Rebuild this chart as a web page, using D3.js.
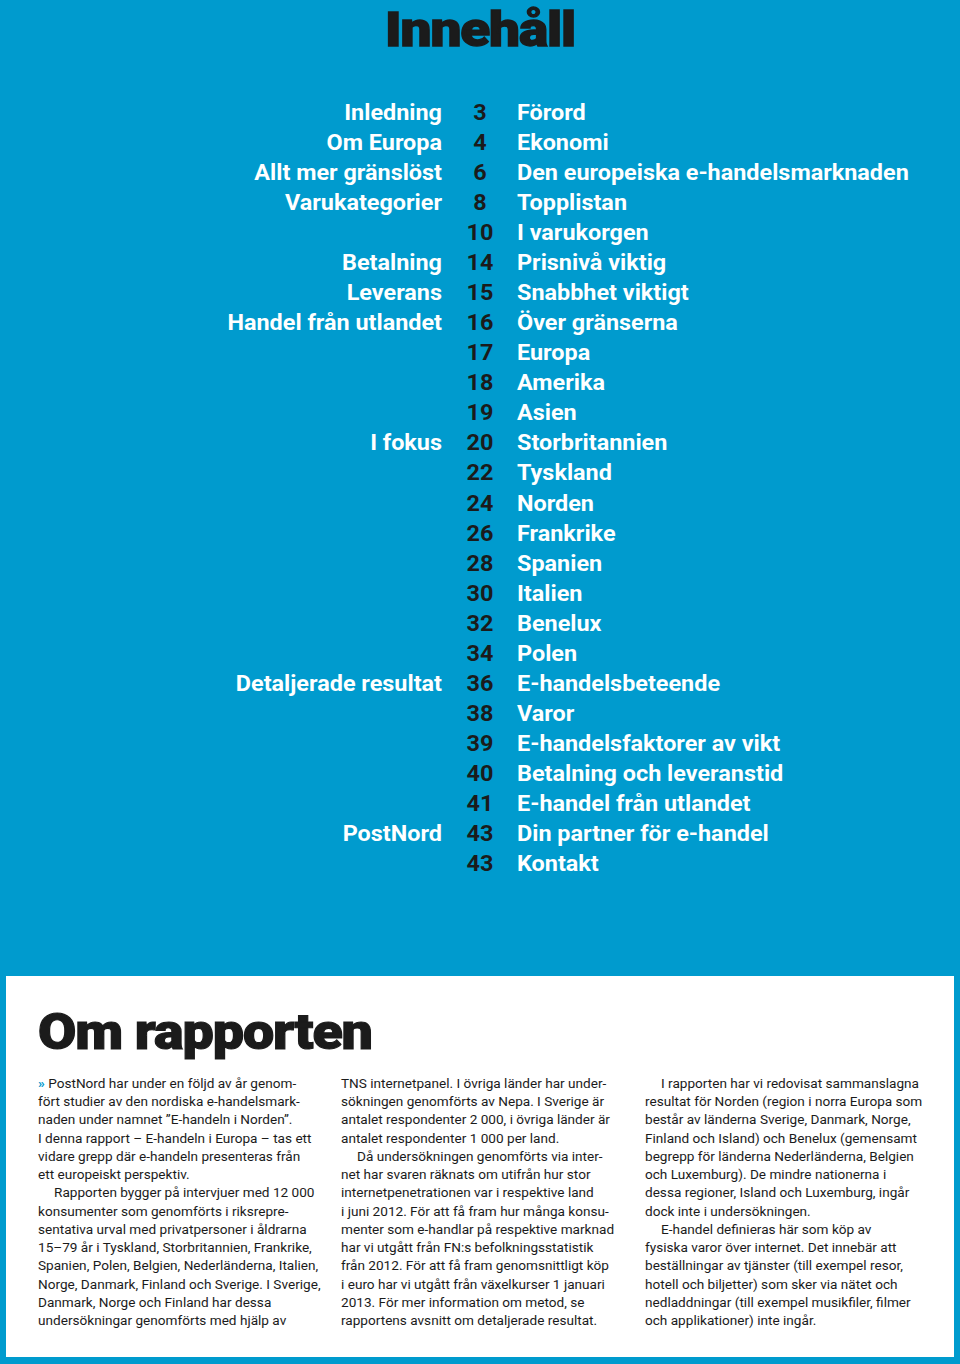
<!DOCTYPE html>
<html><head><meta charset="utf-8">
<script src="https://cdn.jsdelivr.net/npm/d3@7"></script>
<style>
html,body{margin:0;padding:0;background:#009bce;}
svg{display:block;}
</style></head>
<body>
<svg id="c" width="960" height="1364"></svg>
<script>
// ---- data ----
const sections = ["Inledning","Om Europa","Allt mer gränslöst","Varukategorier","","Betalning","Leverans","Handel från utlandet","","","","I fokus","","","","","","","","Detaljerade resultat","","","","","PostNord",""];
const pages = ["3","4","6","8","10","14","15","16","17","18","19","20","22","24","26","28","30","32","34","36","38","39","40","41","43","43"];
const titles = ["Förord","Ekonomi","Den europeiska e-handelsmarknaden","Topplistan","I varukorgen","Prisnivå viktig","Snabbhet viktigt","Över gränserna","Europa","Amerika","Asien","Storbritannien","Tyskland","Norden","Frankrike","Spanien","Italien","Benelux","Polen","E-handelsbeteende","Varor","E-handelsfaktorer av vikt","Betalning och leveranstid","E-handel från utlandet","Din partner för e-handel","Kontakt"];

const col1 = ["PostNord har under en följd av år genom-","fört studier av den nordiska e-handelsmark-","naden under namnet ”E-handeln i Norden”.","I denna rapport – E-handeln i Europa – tas  ett","vidare grepp där e-handeln presenteras från","ett europeiskt perspektiv.","    Rapporten bygger på intervjuer med 12 000","konsumenter som genomförts i riksrepre-","sentativa urval med privatpersoner i åldrarna","15–79 år i Tyskland, Storbritannien, Frankrike,","Spanien, Polen, Belgien, Nederländerna, Italien,","Norge, Danmark, Finland och Sverige. I Sverige,","Danmark, Norge och Finland har dessa","undersökningar genomförts med hjälp av"];
const col2 = ["TNS internetpanel. I övriga länder har under-","sökningen genomförts av Nepa. I Sverige är","antalet respondenter 2 000, i övriga länder är","antalet respondenter 1 000 per land.","    Då undersökningen genomförts via inter-","net har svaren räknats om utifrån hur stor","internetpenetrationen var i respektive land","i juni 2012. För att få fram hur många konsu-","menter som e-handlar på respektive marknad","har vi utgått från FN:s befolkningsstatistik","från 2012. För att få fram genomsnittligt köp","i euro har vi utgått från växelkurser 1 januari","2013. För mer information om metod, se","rapportens avsnitt om detaljerade resultat."];
const col3 = ["    I rapporten har vi redovisat sammanslagna","resultat för Norden (region i norra Europa som","består av länderna Sverige, Danmark, Norge,","Finland och Island) och Benelux (gemensamt","begrepp för länderna Nederländerna, Belgien","och Luxemburg). De mindre nationerna i","dessa regioner, Island och Luxemburg, ingår","dock inte i undersökningen.","    E-handel definieras här som köp av","fysiska varor över internet. Det innebär att","beställningar av tjänster (till exempel resor,","hotell och biljetter) som sker via nätet och","nedladdningar (till exempel musikfiler, filmer","och applikationer) inte ingår."];

// ---- drawing ----
const W = 960, H = 1364;
const BLUE = "#009bce", DARK = "#1b1b1b";
const svg = d3.select("#c");
svg.append("rect").attr("width",W).attr("height",H).attr("fill",BLUE);

const headFont = "Roboto, 'Liberation Sans', sans-serif";

// helper: horizontally condense a text so it spans a target width
function condense(sel, targetW){
  const w = sel.node().getComputedTextLength();
  return targetW / w;
}

// Title
const tg = svg.append("g");
const tt = tg.append("text").attr("x",0).attr("y",0).attr("text-anchor","middle")
  .attr("font-family",headFont).attr("font-weight",900).attr("font-size",48)
  .attr("fill",DARK).attr("stroke",DARK).attr("stroke-width",1.3).attr("letter-spacing",-1)
  .text("Innehåll");
tg.attr("transform",`translate(480,45.5) scale(${condense(tt,190)},1)`);

// TOC
const y = d3.scalePoint().domain(d3.range(titles.length)).range([112, 863]);
const tocSize = 22;
// measure condense factor from longest title
const probe = svg.append("text").attr("font-family",headFont).attr("font-weight",700)
  .attr("font-size",tocSize).text(titles[2]);
const k = condense(probe, 392);
probe.remove();

const rows = svg.append("g").selectAll("g").data(titles).join("g")
  .attr("transform",(d,i)=>`translate(0,${y(i)+8})`)
  .attr("font-family",headFont).attr("font-weight",700).attr("font-size",tocSize);
rows.append("text").attr("transform",`translate(442,0) scale(${k},1)`).attr("text-anchor","end")
  .attr("fill","#fff").text((d,i)=>sections[i]);
rows.append("text").attr("transform",`translate(480,0) scale(${k},1)`).attr("text-anchor","middle")
  .attr("fill",DARK).text((d,i)=>pages[i]);
rows.append("text").attr("transform",`translate(517,0) scale(${k},1)`).attr("text-anchor","start")
  .attr("fill","#fff").text(d=>d);

// white panel
svg.append("rect").attr("x",6).attr("y",976).attr("width",948).attr("height",381).attr("fill","#fff");
const og = svg.append("g");
const ot = og.append("text").attr("x",0).attr("y",0)
  .attr("font-family",headFont).attr("font-weight",900).attr("font-size",50)
  .attr("fill",DARK).attr("stroke",DARK).attr("stroke-width",1.1).attr("letter-spacing",-1)
  .text("Om rapporten");
og.attr("transform",`translate(38,1049) scale(${condense(ot,334)},1)`);

const bodyFont = "Roboto, 'Liberation Sans', sans-serif";
const ly = d3.scaleLinear().domain([0,13]).range([1088, 1325]);
const cols = [{x:38, lines:col1},{x:341, lines:col2},{x:645, lines:col3}];
cols.forEach((c,ci)=>{
  const g = svg.append("g").attr("font-family",bodyFont).attr("font-size",13.6).attr("fill",DARK);
  c.lines.forEach((t,i)=>{
    const indent = t.startsWith("    ");
    const tx = g.append("text").attr("x", c.x + (indent?16:0)).attr("y", ly(i));
    if (ci===0 && i===0){
      tx.append("tspan").attr("fill",BLUE).attr("font-weight",700).text("» ");
    }
    tx.append("tspan").text(t.trim());
  });
});
</script>
</body></html>
